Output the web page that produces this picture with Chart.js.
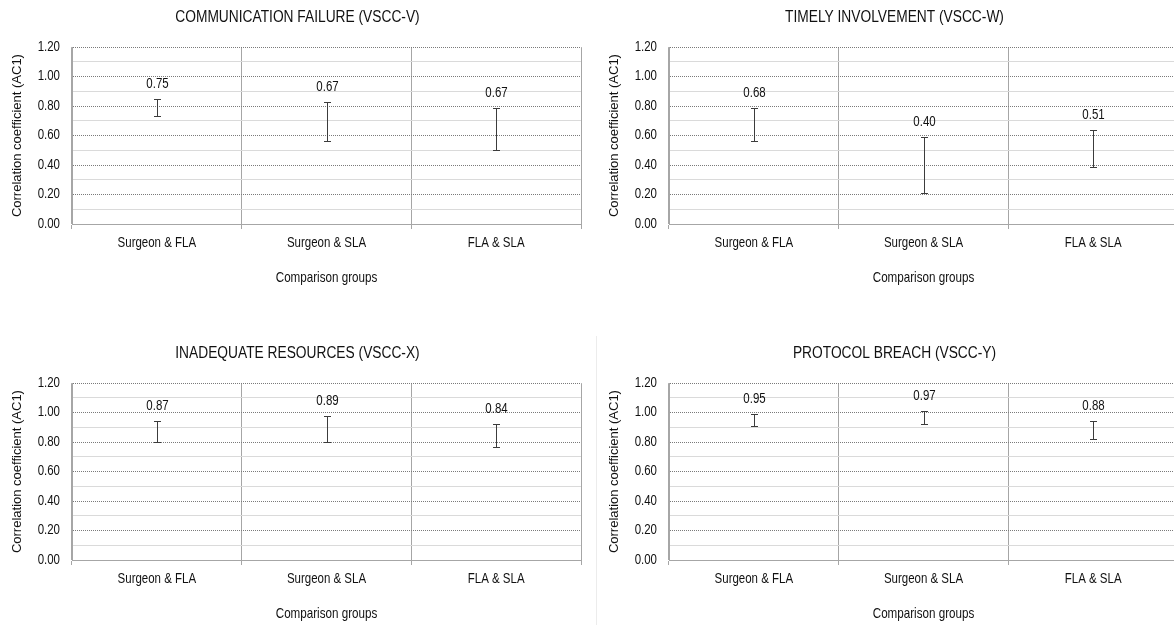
<!DOCTYPE html>
<html>
<head>
<meta charset="utf-8">
<script src="https://cdn.jsdelivr.net/npm/chart.js@4.4.1/dist/chart.umd.min.js"></script>
<style>
    html, body { margin: 0; padding: 0; background: #ffffff; overflow: hidden; }
    body { position: relative; width: 1174px; height: 625px; }
    .panel { position: absolute; width: 597px; height: 300px; }
</style>
</head>
<body>
<div class="panel" style="left:0px; top:0px;"><canvas id="chartV"></canvas></div>
<div class="panel" style="left:597px; top:0px;"><canvas id="chartW"></canvas></div>
<div class="panel" style="left:0px; top:336px;"><canvas id="chartX"></canvas></div>
<div class="panel" style="left:596px; top:336px; border-left:1px solid #ececec;"><canvas id="chartY"></canvas></div>
<script>
const groups = ["Surgeon & FLA", "Surgeon & SLA", "FLA & SLA"];

// AC1 estimate and its error bar ends, one set per panel
const commMean = [0.75, 0.67, 0.67];
const commLow = [0.73, 0.56, 0.50];
const commHigh = [0.85, 0.83, 0.79];

const timelyMean = [0.68, 0.40, 0.51];
const timelyLow = [0.56, 0.21, 0.39];
const timelyHigh = [0.79, 0.59, 0.64];

const resourceMean = [0.87, 0.89, 0.84];
const resourceLow = [0.80, 0.80, 0.77];
const resourceHigh = [0.94, 0.98, 0.92];

const protocolMean = [0.95, 0.97, 0.88];
const protocolLow = [0.91, 0.92, 0.82];
const protocolHigh = [0.99, 1.01, 0.94];

const baseFont = "'Liberation Sans', Arial, sans-serif";
const textSqueeze = 0.82;

Chart.defaults.font.family = baseFont;
Chart.defaults.color = "#111111";

function isMajor(value) {
    return Math.round(value * 10) % 2 === 0;
}

// horizontal text is narrowed like Arial Narrow; rotated text is left alone
function squeezeText(ctx) {
    const baseFillText = ctx.fillText.bind(ctx);
    ctx.fillText = function (text, x, y, maxWidth) {
        const m = ctx.getTransform();
        if (m.b !== 0 || m.c !== 0) {
            return maxWidth === undefined ? baseFillText(text, x, y) : baseFillText(text, x, y, maxWidth);
        }
        ctx.save();
        ctx.translate(x, y);
        ctx.scale(textSqueeze, 1);
        if (maxWidth === undefined) {
            baseFillText(text, 0, 0);
        } else {
            baseFillText(text, 0, 0, maxWidth / textSqueeze);
        }
        ctx.restore();
    };
}

const errorBarPlugin = {
    id: "errorBars",
    afterDatasetsDraw: function (chart) {
        const ctx = chart.ctx;
        const xScale = chart.scales.x;
        const yScale = chart.scales.y;
        const ds = chart.data.datasets[0];

        ctx.save();
        ctx.strokeStyle = "#3c3c3c";
        ctx.lineWidth = 1;
        ctx.fillStyle = "#111111";
        ctx.font = "14px " + baseFont;
        ctx.textAlign = "center";
        ctx.textBaseline = "middle";

        ds.data.forEach(function (value, i) {
            let x = Math.round(xScale.getPixelForValue(i)) + 0.5;
            let top = Math.round(yScale.getPixelForValue(ds.errHigh[i])) + 0.5;
            let bottom = Math.round(yScale.getPixelForValue(ds.errLow[i])) + 0.5;

            ctx.beginPath();
            ctx.moveTo(x, top);
            ctx.lineTo(x, bottom);
            ctx.moveTo(x - 3.5, top);
            ctx.lineTo(x + 3.5, top);
            ctx.moveTo(x - 3.5, bottom);
            ctx.lineTo(x + 3.5, bottom);
            ctx.stroke();

            ctx.fillText(value.toFixed(2), x, top - 15.5);
        });
        ctx.restore();
    }
};

function panelScales() {
    return {
        x: {
            offset: true,
            grid: {
                offset: true,
                color: "#a6a6a6",
                tickLength: 5
            },
            border: {
                color: "#a6a6a6"
            },
            ticks: {
                padding: 6,
                maxRotation: 0,
                font: { size: 14 }
            },
            title: {
                display: true,
                text: "Comparison groups",
                font: { size: 14.2 },
                padding: { top: 0, bottom: 13 }
            },
            afterFit: function (scale) {
                scale.height = 76;
            }
        },
        y: {
            min: 0,
            max: 1.2,
            ticks: {
                stepSize: 0.1,
                autoSkip: false,
                padding: 12,
                font: { size: 14 },
                callback: function (value) {
                    return isMajor(value) ? value.toFixed(2) : "";
                }
            },
            grid: {
                drawTicks: false,
                color: function (context) {
                    return isMajor(context.tick.value) ? "#7a7a7a" : "#dadada";
                }
            },
            border: {
                color: "#a6a6a6",
                dash: function (context) {
                    return (context.tick && isMajor(context.tick.value)) ? [1, 1] : [];
                }
            },
            title: {
                display: true,
                text: "Correlation coefficient (AC1)",
                font: { size: 13 },
                padding: { top: -4, bottom: 0 }
            },
            afterFit: function (scale) {
                scale.width = 58;
            }
        }
    };
}

function CreateErrorBarChart(chartID, titleText, meanArr, lowArr, highArr) {
    let chartCanvas = document.getElementById(chartID);
    squeezeText(chartCanvas.getContext("2d"));

    new Chart(chartCanvas, {
        type: "line",
        data: {
            labels: groups,
            datasets: [{
                data: meanArr,
                errLow: lowArr,
                errHigh: highArr,
                showLine: false,
                pointRadius: 0,
                pointHoverRadius: 0
            }]
        },
        options: {
            responsive: true,
            maintainAspectRatio: false,
            animation: false,
            layout: {
                padding: { left: 14, right: 16, top: 0, bottom: 0 }
            },
            plugins: {
                legend: { display: false },
                tooltip: { enabled: false },
                title: {
                    display: true,
                    text: titleText,
                    color: "#111111",
                    font: { size: 16.8, weight: "normal" },
                    padding: { top: 7, bottom: 20 }
                }
            },
            scales: panelScales()
        },
        plugins: [errorBarPlugin]
    });
}

CreateErrorBarChart("chartV", "COMMUNICATION FAILURE (VSCC-V)", commMean, commLow, commHigh);
CreateErrorBarChart("chartW", "TIMELY INVOLVEMENT (VSCC-W)", timelyMean, timelyLow, timelyHigh);
CreateErrorBarChart("chartX", "INADEQUATE RESOURCES (VSCC-X)", resourceMean, resourceLow, resourceHigh);
CreateErrorBarChart("chartY", "PROTOCOL BREACH (VSCC-Y)", protocolMean, protocolLow, protocolHigh);
</script>
</body>
</html>
